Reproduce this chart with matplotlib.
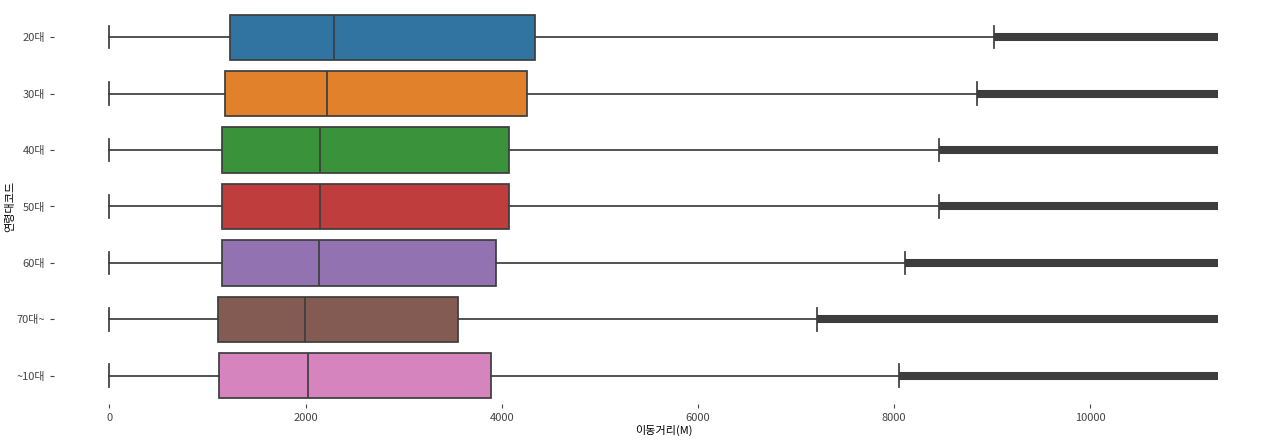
import matplotlib
matplotlib.use("Agg")
import matplotlib.pyplot as plt

plt.rcParams["font.family"] = ["Noto Sans CJK KR", "DejaVu Sans"]
plt.rcParams["axes.unicode_minus"] = False

# 연령대별 이동거리 분포
ages = ["20대", "30대", "40대", "50대", "60대", "70대~", "~10대"]
whislo = [0, 0, 0, 0, 0, 0, 0]
q1 = [1233, 1182, 1152, 1152, 1152, 1111, 1121]
med = [2294, 2222, 2151, 2151, 2141, 1998, 2029]
q3 = [4343, 4261, 4077, 4077, 3945, 3558, 3894]
whishi = [9021, 8848, 8461, 8461, 8114, 7217, 8053]
flier_max = [11300, 11300, 11300, 11300, 11300, 11300, 11300]
colors = ["#3274a1", "#e1812c", "#3a923a", "#c03d3e", "#9372b2", "#845b53", "#d684bd"]

line_c = "#3d3d3d"

fig = plt.figure(figsize=(12.8, 4.4), dpi=100)
ax = fig.add_axes([54 / 1280, 36 / 440, 1219 / 1280, 395 / 440])

stats = []
for i, a in enumerate(ages):
    stats.append(
        dict(label=a, whislo=whislo[i], q1=q1[i], med=med[i], q3=q3[i],
             whishi=whishi[i], fliers=[])
    )

pos = list(range(len(ages)))
bp = ax.bxp(
    stats,
    positions=pos,
    vert=False,
    widths=0.8,
    patch_artist=True,
    showfliers=False,
    boxprops=dict(edgecolor=line_c, linewidth=1.25),
    medianprops=dict(color=line_c, linewidth=1.25),
    whiskerprops=dict(color=line_c, linewidth=1.25),
    capprops=dict(color=line_c, linewidth=1.25),
    capwidths=0.4,
)
for patch, c in zip(bp["boxes"], colors):
    patch.set_facecolor(c)

# 이상치: 빽빽하게 찍혀 굵은 띠처럼 보이는 부분
for i in pos:
    ax.plot([whishi[i], flier_max[i]], [i, i], color=line_c, linewidth=5.8,
            solid_capstyle="butt", zorder=1)

ax.set_xlim(-565, 11865)
ax.set_ylim(6.5, -0.5)
ax.set_yticks(pos)
ax.set_yticklabels(ages)
ax.set_xticks([0, 2000, 4000, 6000, 8000, 10000])
ax.tick_params(labelsize=8, colors="#444444", length=3, width=0.8)
for s in ax.spines.values():
    s.set_visible(False)
ax.set_xlabel("이동거리(M)", fontsize=8, labelpad=1)
ax.set_ylabel("연령대코드", fontsize=8, labelpad=1)

fig.savefig("out.png", dpi=100)
